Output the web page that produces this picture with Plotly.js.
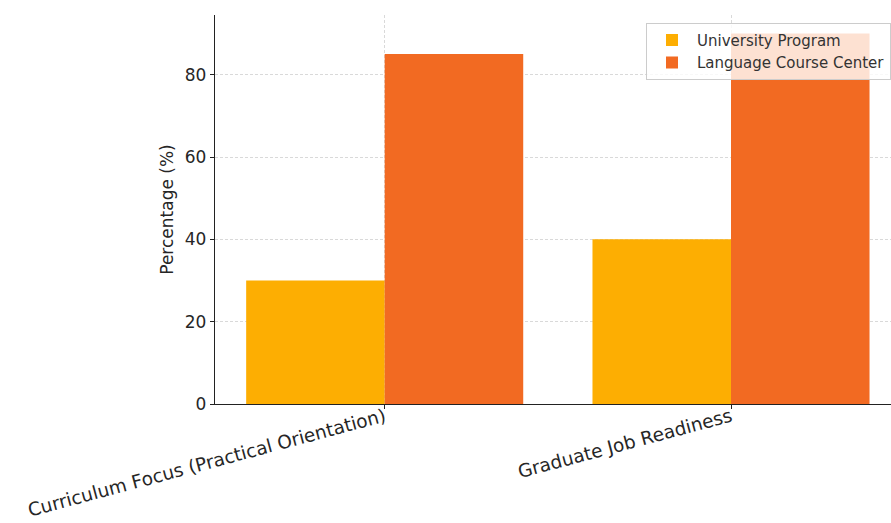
<!DOCTYPE html>
<html>
<head>
<meta charset="utf-8">
<script src="https://cdn.plot.ly/plotly-3.0.1.min.js"></script>
<style>html,body{margin:0;padding:0;background:#fff;}#chart{width:891px;height:523px;}</style>
</head>
<body>
<div id="chart"></div>
<script>
const categories = ["Curriculum Focus (Practical Orientation)", "Graduate Job Readiness"];
const universityProgram = [30, 40];
const languageCourseCenter = [85, 90];
const seriesNames = ["University Program", "Language Course Center"];
const yTicks = [0, 20, 40, 60, 80];

const font = "DejaVu Sans, sans-serif";
const data = [
  {type: "bar", name: seriesNames[0], x: categories, y: universityProgram,
   marker: {color: "#FDAE02", line: {width: 0}}},
  {type: "bar", name: seriesNames[1], x: categories, y: languageCourseCenter,
   marker: {color: "#F26A22", line: {width: 0}}}
];
const layout = {
  width: 891, height: 523,
  margin: {l: 215, r: 0, t: 15, b: 119, pad: 0},
  paper_bgcolor: "#fff", plot_bgcolor: "#fff",
  font: {family: font, color: "#262626", size: 15},
  barmode: "group", bargap: 0.2, bargroupgap: 0,
  showlegend: true,
  legend: {x: 1, xanchor: "right", y: 0.98, yanchor: "top",
    bgcolor: "rgba(255,255,255,0.8)", bordercolor: "#cccccc", borderwidth: 1,
    font: {family: font, size: 15, color: "#333"}, tracegroupgap: 0, itemwidth: 40},
  xaxis: {type: "category", range: [-0.49, 1.462], tickangle: -15,
    showgrid: true, gridcolor: "#d0d0d0", griddash: "3px,2px", gridwidth: 0.8,
    showline: true, linecolor: "#222", linewidth: 1.2, ticks: "outside", ticklen: 4,
    ticklabelstandoff: -10,
    tickcolor: "#222", tickfont: {family: font, size: 18.5, color: "#262626"}, zeroline: false},
  yaxis: {range: [0, 94.5], tickvals: yTicks, ticktext: yTicks.map(String),
    showgrid: true, gridcolor: "#d0d0d0", griddash: "3px,2px", gridwidth: 0.8,
    showline: true, linecolor: "#222", linewidth: 1.2, ticks: "outside", ticklen: 4,
    tickcolor: "#222", tickfont: {family: font, size: 17, color: "#262626"}, zeroline: false,
    title: {text: "Percentage (%)", font: {family: font, size: 17, color: "#262626"}, standoff: 6}}
};
Plotly.newPlot("chart", data, layout, {displayModeBar: false, staticPlot: true});
</script>
</body>
</html>
